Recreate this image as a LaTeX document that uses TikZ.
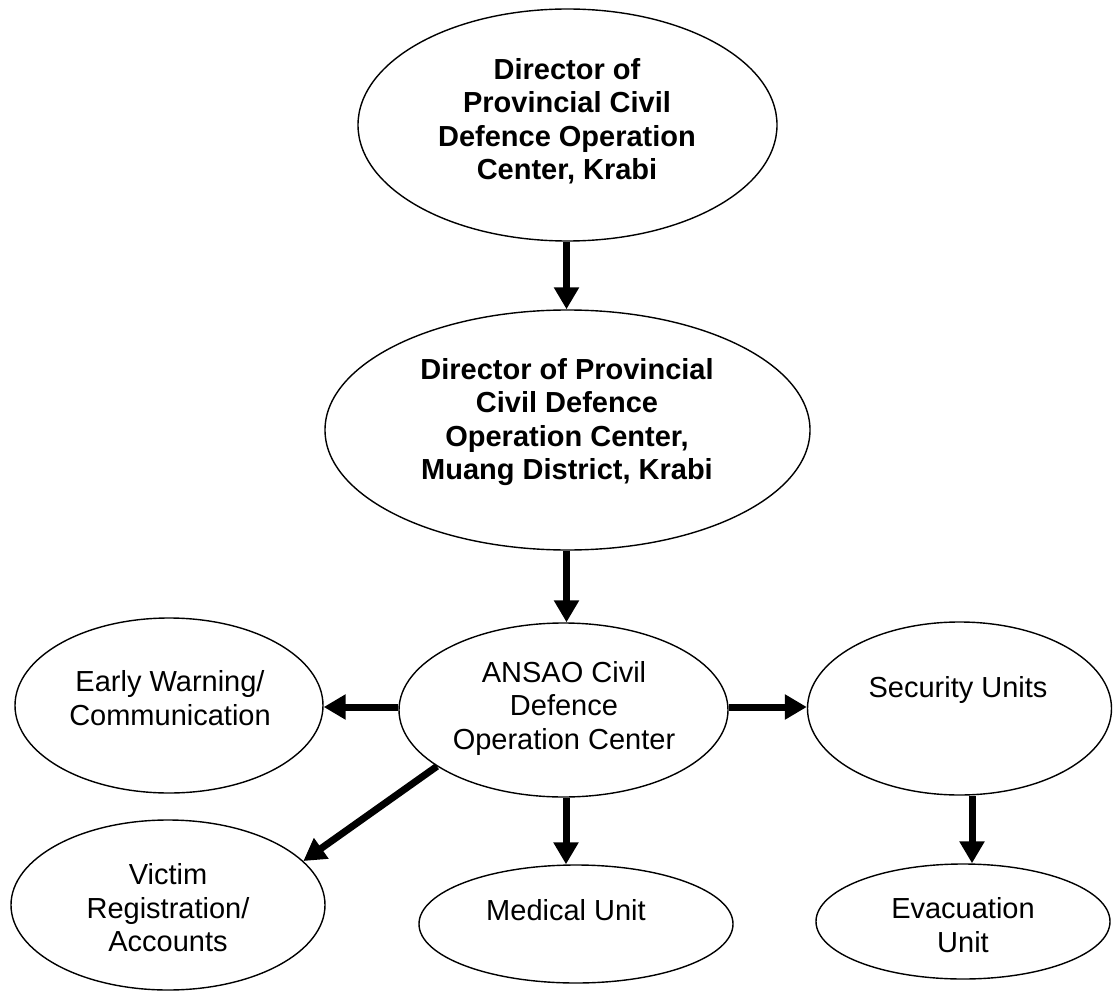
\documentclass[tikz,border=0pt]{standalone}
\usepackage{fontspec}
\setmainfont{Liberation Sans}
\usetikzlibrary{shapes.geometric,arrows.meta}
\begin{document}
\begin{tikzpicture}[x=1pt,y=-1pt,
  oval/.style={draw, ellipse, line width=1.4pt, inner sep=0pt},
  lbl/.style={align=center, font=\fontsize{29}{33.5}\selectfont, inner sep=0pt},
  blbl/.style={align=center, font=\fontsize{29}{33.5}\selectfont\bfseries, inner sep=0pt},
  conn/.style={line width=7pt, -{Triangle[length=22pt,width=24pt]}}]
\useasboundingbox[fill=white] (0,0) rectangle (1113,992);

% ellipses
\node[oval, minimum width=419pt, minimum height=232pt] (top) at (567.5,125) {};
\node[oval, minimum width=485pt, minimum height=240pt] (mid) at (567.5,430) {};
\node[oval, minimum width=329pt, minimum height=174pt] (ansao) at (563.5,710) {};
\node[oval, minimum width=308pt, minimum height=175pt] (early) at (169,705.5) {};
\node[oval, minimum width=304pt, minimum height=173pt] (security) at (959.5,708.5) {};
\node[oval, minimum width=314pt, minimum height=170pt] (victim) at (168,905) {};
\node[oval, minimum width=314pt, minimum height=118pt] (medical) at (576,924) {};
\node[oval, minimum width=294pt, minimum height=115pt] (evac) at (963,921.5) {};

% texts
\node[blbl] (ttop) at (567,121) {Director of\\Provincial Civil\\Defence Operation\\Center, Krabi};
\node[blbl] (tmid) at (567,422) {Director of Provincial\\Civil Defence\\Operation Center,\\Muang District, Krabi};
\node[lbl] (tansao) at (564,708) {ANSAO Civil\\Defence\\Operation Center};
\node[lbl] (tearly) at (170,698) {Early Warning/\\Communication};
\node[lbl] (tsecurity) at (958,690) {Security Units};
\node[lbl] (tvictim) at (168,908) {Victim\\Registration/\\Accounts};
\node[lbl] (tmedical) at (566,910) {Medical Unit};
\node[lbl] (tevac) at (963,925) {Evacuation\\Unit};

% connectors
\draw[conn] ([xshift=-1pt]top.south) -- ([xshift=-1pt]mid.north);
\draw[conn] ([xshift=-1pt]mid.south) -- ([xshift=3pt]ansao.north);
\draw[conn] ([yshift=3pt]ansao.west) -- ([yshift=-1.5pt]early.east);
\draw[conn] ([yshift=3pt]ansao.east) -- ([yshift=1.5pt]security.west);
\draw[conn] (ansao.204) -- (victim.18);
\draw[conn] ([xshift=2.5pt]ansao.south) -- ([xshift=-10pt]medical.north);
\draw[conn] ([xshift=12.5pt]security.south) -- ([xshift=9pt]evac.north);
\end{tikzpicture}
\end{document}
